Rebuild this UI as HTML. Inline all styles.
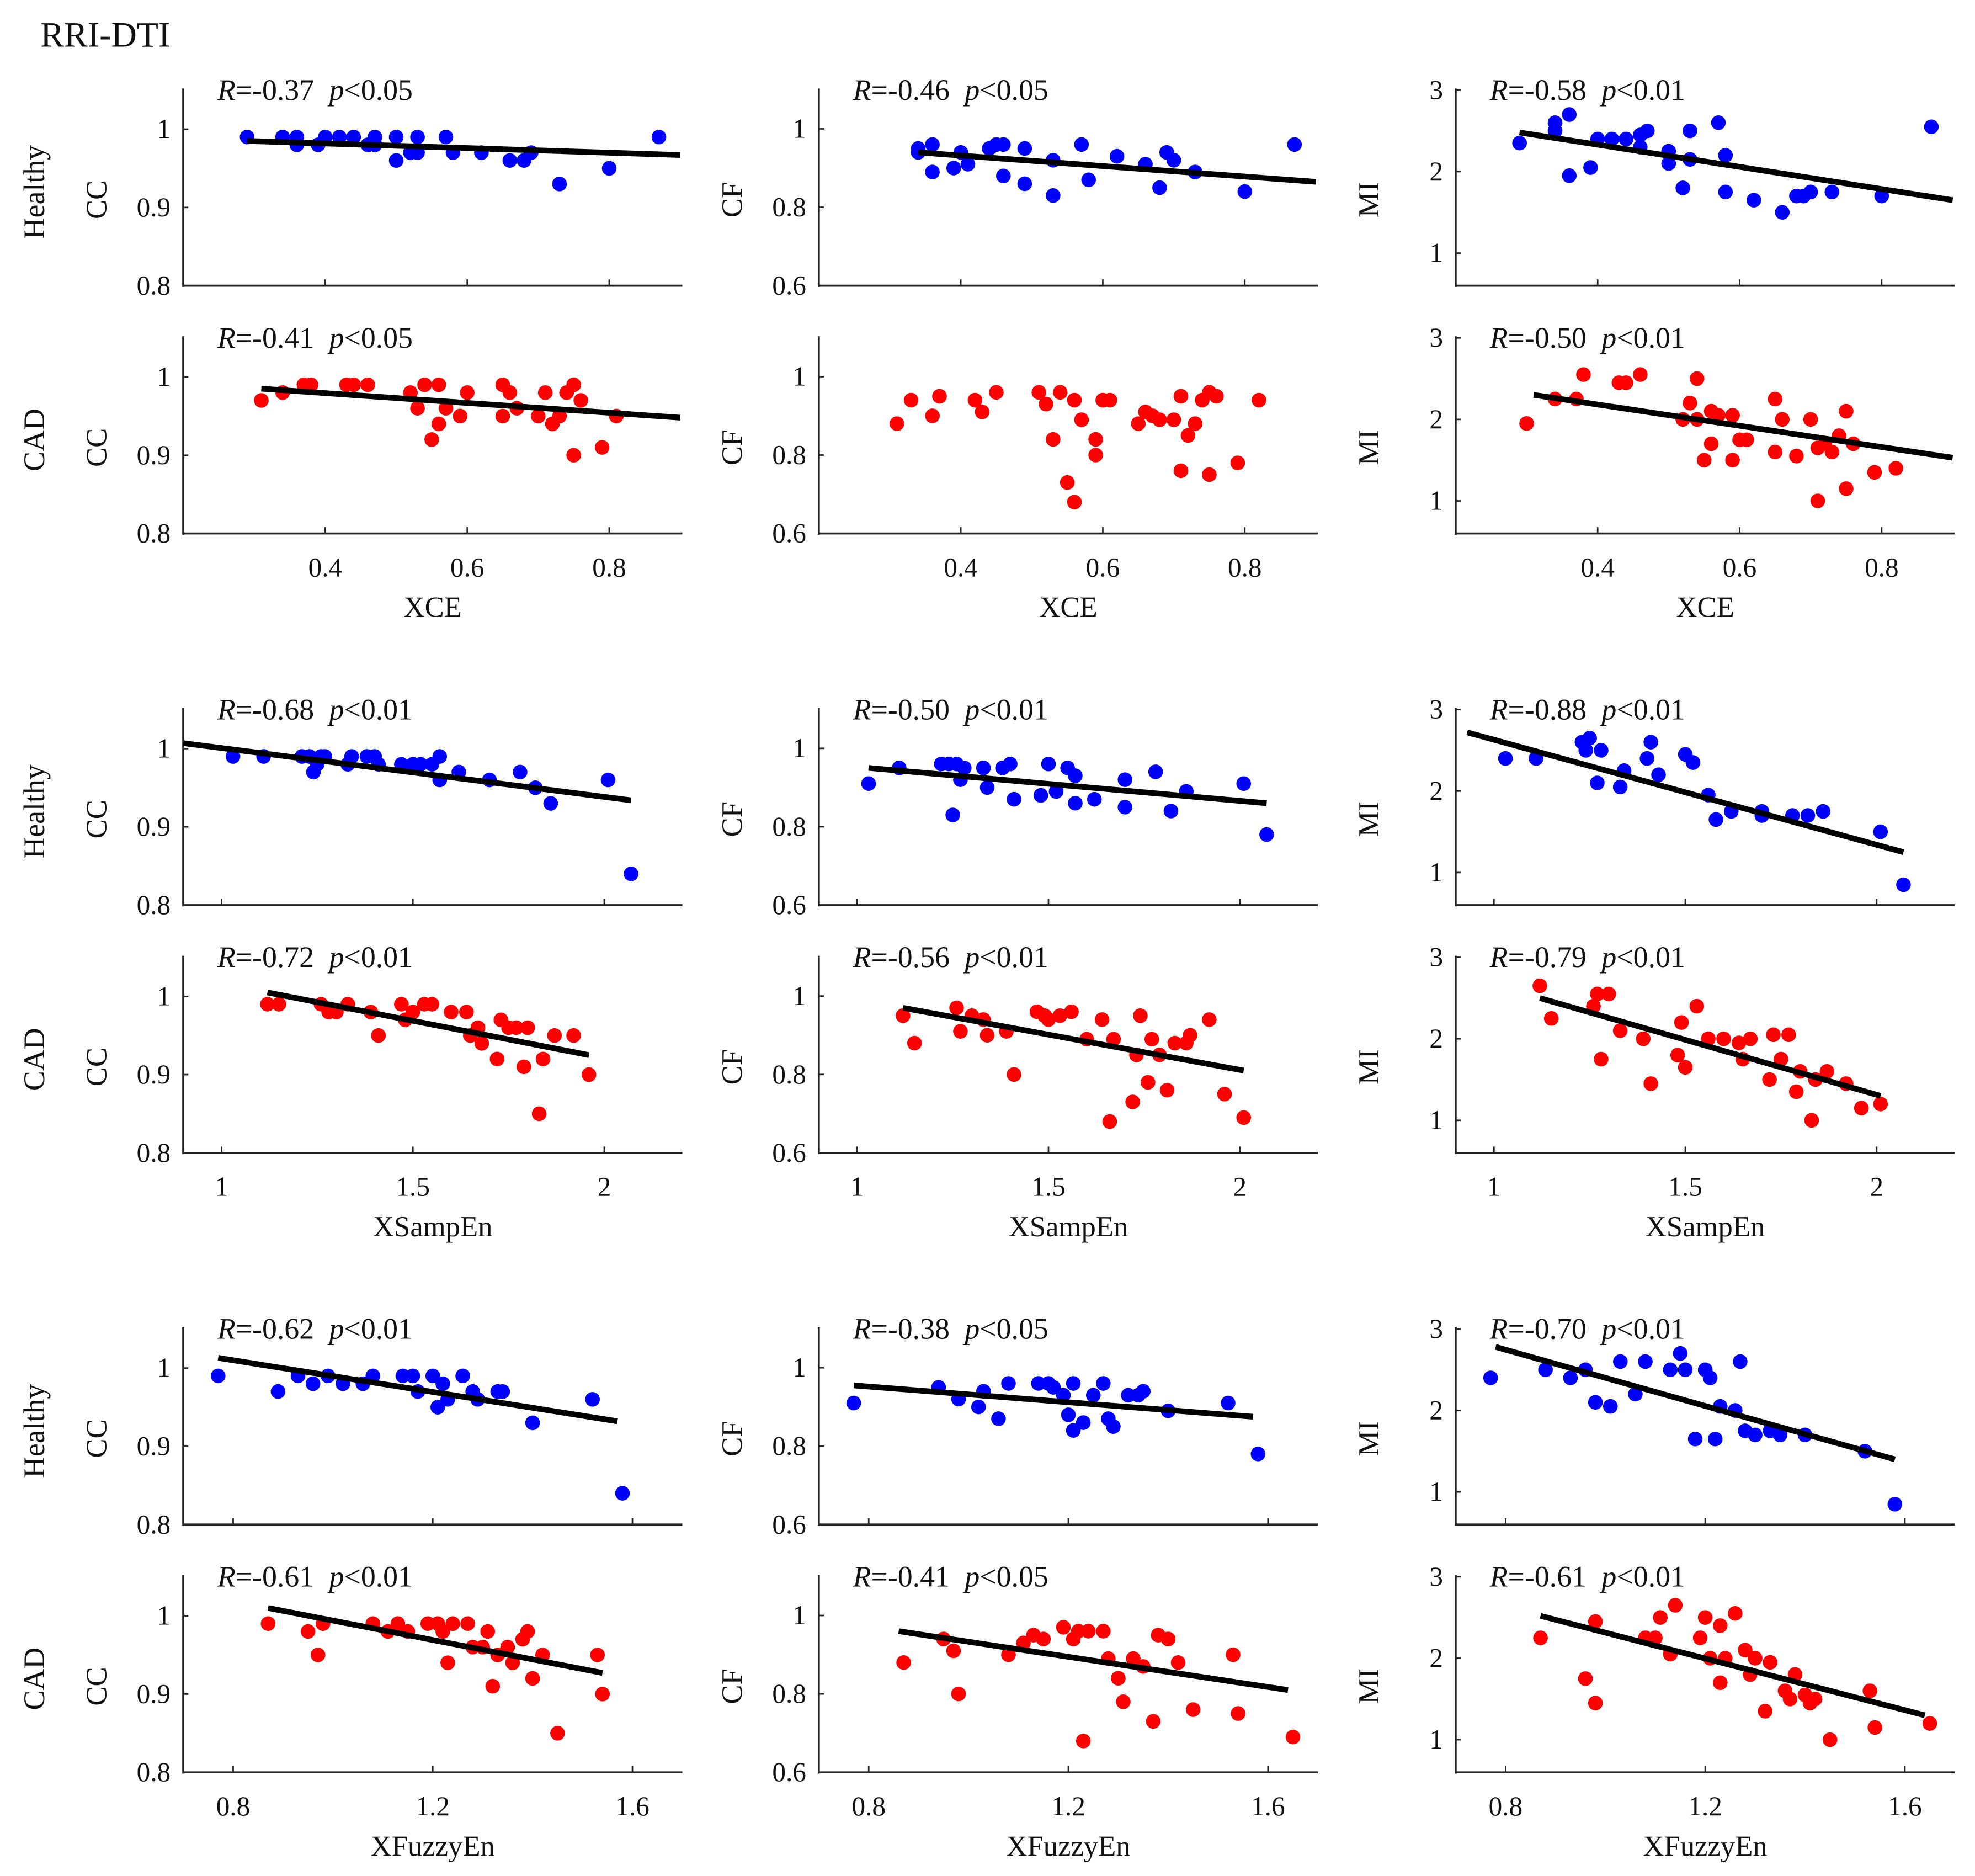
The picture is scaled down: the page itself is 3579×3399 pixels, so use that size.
<!DOCTYPE html>
<html><head><meta charset="utf-8">
<style>
html,body{margin:0;padding:0;background:#fff;}
svg{display:block;}
text{font-family:"Liberation Serif",serif;fill:#111;}
</style></head>
<body>
<svg id="fig" width="3579" height="3399" viewBox="0 0 1563 1484" preserveAspectRatio="none" xmlns="http://www.w3.org/2000/svg">
<text x="32" y="37" font-size="28">RRI-DTI</text>
</svg>
<script>
// ---- data (x, y) per panel ----
const xce_h_cc = [[0.29,0.99],[0.34,0.99],[0.36,0.98],[0.36,0.99],[0.39,0.98],[0.40,0.99],[0.42,0.99],[0.44,0.99],[0.46,0.98],[0.47,0.99],[0.47,0.98],[0.50,0.99],[0.50,0.96],[0.52,0.97],[0.53,0.99],[0.53,0.97],[0.57,0.99],[0.58,0.97],[0.62,0.97],[0.66,0.96],[0.68,0.96],[0.69,0.97],[0.73,0.93],[0.80,0.95],[0.87,0.99]];
const xce_h_cf = [[0.34,0.95],[0.34,0.94],[0.36,0.96],[0.36,0.89],[0.39,0.90],[0.40,0.94],[0.41,0.91],[0.44,0.95],[0.45,0.96],[0.46,0.96],[0.46,0.88],[0.49,0.95],[0.49,0.86],[0.53,0.92],[0.53,0.83],[0.57,0.96],[0.58,0.87],[0.62,0.93],[0.66,0.91],[0.68,0.85],[0.69,0.94],[0.70,0.92],[0.73,0.89],[0.80,0.84],[0.87,0.96]];
const xce_h_mi = [[0.29,2.35],[0.34,2.5],[0.34,2.6],[0.36,2.7],[0.36,1.95],[0.39,2.05],[0.40,2.4],[0.42,2.4],[0.44,2.4],[0.46,2.3],[0.46,2.45],[0.47,2.5],[0.50,2.1],[0.50,2.25],[0.52,1.8],[0.53,2.5],[0.53,2.15],[0.57,2.6],[0.58,2.2],[0.58,1.75],[0.62,1.65],[0.66,1.5],[0.68,1.7],[0.69,1.7],[0.70,1.75],[0.73,1.75],[0.80,1.7],[0.87,2.55]];
const xce_c_cc = [[0.31,0.97],[0.34,0.98],[0.37,0.99],[0.38,0.99],[0.43,0.99],[0.44,0.99],[0.46,0.99],[0.52,0.98],[0.53,0.96],[0.54,0.99],[0.55,0.92],[0.56,0.94],[0.56,0.99],[0.57,0.96],[0.59,0.95],[0.60,0.98],[0.65,0.95],[0.65,0.99],[0.66,0.98],[0.67,0.96],[0.70,0.95],[0.71,0.98],[0.72,0.94],[0.73,0.95],[0.74,0.98],[0.75,0.99],[0.75,0.90],[0.76,0.97],[0.79,0.91],[0.81,0.95]];
const xce_c_cf = [[0.31,0.88],[0.33,0.94],[0.36,0.90],[0.37,0.95],[0.42,0.94],[0.43,0.91],[0.45,0.96],[0.51,0.96],[0.52,0.93],[0.53,0.84],[0.54,0.96],[0.55,0.73],[0.56,0.68],[0.56,0.94],[0.57,0.89],[0.59,0.84],[0.59,0.80],[0.60,0.94],[0.61,0.94],[0.65,0.88],[0.66,0.91],[0.67,0.90],[0.68,0.89],[0.70,0.89],[0.71,0.95],[0.71,0.76],[0.72,0.85],[0.73,0.88],[0.74,0.94],[0.75,0.96],[0.75,0.75],[0.76,0.95],[0.79,0.78],[0.82,0.94]];
const xce_c_mi = [[0.30,1.95],[0.34,2.25],[0.37,2.25],[0.38,2.55],[0.43,2.45],[0.44,2.45],[0.46,2.55],[0.52,2.0],[0.53,2.2],[0.54,2.5],[0.54,2.0],[0.55,1.5],[0.56,1.7],[0.56,2.1],[0.57,2.05],[0.59,1.5],[0.59,2.05],[0.60,1.75],[0.61,1.75],[0.65,2.25],[0.65,1.6],[0.66,2.0],[0.68,1.55],[0.70,2.0],[0.71,1.0],[0.71,1.65],[0.72,1.7],[0.73,1.6],[0.74,1.8],[0.75,2.1],[0.75,1.15],[0.76,1.7],[0.79,1.35],[0.82,1.4]];
const se_h_cc = [[1.03,0.99],[1.11,0.99],[1.21,0.99],[1.23,0.99],[1.24,0.97],[1.25,0.98],[1.26,0.99],[1.27,0.99],[1.33,0.98],[1.34,0.99],[1.38,0.99],[1.40,0.99],[1.41,0.98],[1.47,0.98],[1.50,0.98],[1.52,0.98],[1.55,0.98],[1.57,0.99],[1.57,0.96],[1.62,0.97],[1.70,0.96],[1.78,0.97],[1.82,0.95],[1.86,0.93],[2.01,0.96],[2.07,0.84]];
const se_h_cf = [[1.03,0.91],[1.11,0.95],[1.22,0.96],[1.24,0.96],[1.25,0.83],[1.26,0.96],[1.27,0.92],[1.28,0.95],[1.33,0.95],[1.34,0.90],[1.38,0.95],[1.40,0.96],[1.41,0.87],[1.48,0.88],[1.50,0.96],[1.52,0.89],[1.55,0.95],[1.57,0.93],[1.57,0.86],[1.62,0.87],[1.70,0.92],[1.70,0.85],[1.78,0.94],[1.82,0.84],[1.86,0.89],[2.01,0.91],[2.07,0.78]];
const se_h_mi = [[1.03,2.4],[1.11,2.4],[1.23,2.6],[1.24,2.5],[1.25,2.65],[1.27,2.1],[1.28,2.5],[1.33,2.05],[1.34,2.25],[1.40,2.4],[1.41,2.6],[1.43,2.2],[1.50,2.45],[1.52,2.35],[1.56,1.95],[1.58,1.65],[1.62,1.75],[1.70,1.7],[1.70,1.75],[1.78,1.7],[1.82,1.7],[1.86,1.75],[2.01,1.5],[2.07,0.85]];
const se_c_cc = [[1.12,0.99],[1.15,0.99],[1.26,0.99],[1.28,0.98],[1.30,0.98],[1.33,0.99],[1.39,0.98],[1.41,0.95],[1.47,0.99],[1.48,0.97],[1.50,0.98],[1.53,0.99],[1.55,0.99],[1.60,0.98],[1.64,0.98],[1.65,0.95],[1.67,0.96],[1.68,0.94],[1.72,0.92],[1.73,0.97],[1.75,0.96],[1.77,0.96],[1.79,0.91],[1.80,0.96],[1.83,0.85],[1.84,0.92],[1.87,0.95],[1.92,0.95],[1.96,0.90]];
const se_c_cf = [[1.12,0.95],[1.15,0.88],[1.26,0.97],[1.27,0.91],[1.30,0.95],[1.33,0.94],[1.34,0.90],[1.39,0.91],[1.41,0.80],[1.47,0.96],[1.49,0.95],[1.50,0.94],[1.53,0.95],[1.56,0.96],[1.60,0.89],[1.64,0.94],[1.66,0.68],[1.67,0.89],[1.72,0.73],[1.73,0.85],[1.74,0.95],[1.76,0.78],[1.77,0.89],[1.79,0.85],[1.81,0.76],[1.83,0.88],[1.86,0.88],[1.87,0.90],[1.92,0.94],[1.96,0.75],[2.01,0.69]];
const se_c_mi = [[1.12,2.65],[1.15,2.25],[1.26,2.4],[1.27,2.55],[1.28,1.75],[1.30,2.55],[1.33,2.1],[1.39,2.0],[1.41,1.45],[1.48,1.8],[1.49,2.2],[1.50,1.65],[1.53,2.4],[1.56,2.0],[1.60,2.0],[1.64,1.95],[1.65,1.75],[1.67,2.0],[1.72,1.5],[1.73,2.05],[1.75,1.75],[1.77,2.05],[1.79,1.35],[1.80,1.6],[1.83,1.0],[1.84,1.5],[1.87,1.6],[1.92,1.45],[1.96,1.15],[2.01,1.2]];
const fe_h_cc = [[0.77,0.99],[0.89,0.97],[0.93,0.99],[0.96,0.98],[0.99,0.99],[1.02,0.98],[1.06,0.98],[1.08,0.99],[1.14,0.99],[1.16,0.99],[1.17,0.97],[1.20,0.99],[1.21,0.95],[1.22,0.98],[1.23,0.96],[1.26,0.99],[1.28,0.97],[1.29,0.96],[1.33,0.97],[1.34,0.97],[1.40,0.93],[1.52,0.96],[1.58,0.84]];
const fe_h_cf = [[0.77,0.91],[0.94,0.95],[0.98,0.92],[1.02,0.90],[1.03,0.94],[1.06,0.87],[1.08,0.96],[1.14,0.96],[1.16,0.96],[1.17,0.95],[1.19,0.93],[1.20,0.88],[1.21,0.84],[1.21,0.96],[1.23,0.86],[1.25,0.93],[1.27,0.96],[1.28,0.87],[1.29,0.85],[1.32,0.93],[1.34,0.93],[1.35,0.94],[1.40,0.89],[1.52,0.91],[1.58,0.78]];
const fe_h_mi = [[0.77,2.4],[0.88,2.5],[0.93,2.4],[0.96,2.5],[0.98,2.1],[1.01,2.05],[1.03,2.6],[1.06,2.2],[1.08,2.6],[1.13,2.5],[1.15,2.7],[1.16,2.5],[1.18,1.65],[1.20,2.5],[1.21,2.4],[1.22,1.65],[1.23,2.05],[1.26,2.0],[1.27,2.6],[1.28,1.75],[1.30,1.7],[1.33,1.75],[1.35,1.7],[1.40,1.7],[1.52,1.5],[1.58,0.85]];
const fe_c_cc = [[0.87,0.99],[0.95,0.98],[0.97,0.95],[0.98,0.99],[1.08,0.99],[1.11,0.98],[1.13,0.99],[1.15,0.98],[1.19,0.99],[1.21,0.99],[1.22,0.98],[1.23,0.94],[1.24,0.99],[1.27,0.99],[1.28,0.96],[1.30,0.96],[1.31,0.98],[1.32,0.91],[1.33,0.95],[1.35,0.96],[1.36,0.94],[1.38,0.97],[1.39,0.98],[1.40,0.92],[1.42,0.95],[1.45,0.85],[1.53,0.95],[1.54,0.90]];
const fe_c_cf = [[0.87,0.88],[0.95,0.94],[0.97,0.91],[0.98,0.80],[1.08,0.90],[1.11,0.93],[1.13,0.95],[1.15,0.94],[1.19,0.97],[1.21,0.94],[1.22,0.96],[1.23,0.68],[1.24,0.96],[1.27,0.96],[1.28,0.89],[1.30,0.84],[1.31,0.78],[1.33,0.89],[1.35,0.87],[1.37,0.73],[1.38,0.95],[1.40,0.94],[1.42,0.88],[1.45,0.76],[1.53,0.90],[1.54,0.75],[1.65,0.69]];
const fe_c_mi = [[0.87,2.25],[0.96,1.75],[0.98,1.45],[0.98,2.45],[1.08,2.25],[1.10,2.25],[1.11,2.5],[1.13,2.05],[1.14,2.65],[1.19,2.25],[1.20,2.5],[1.21,2.0],[1.23,1.7],[1.23,2.4],[1.24,2.0],[1.26,2.55],[1.28,2.1],[1.29,1.8],[1.30,2.0],[1.32,1.35],[1.33,1.95],[1.36,1.6],[1.37,1.5],[1.38,1.8],[1.40,1.55],[1.41,1.45],[1.42,1.5],[1.45,1.0],[1.53,1.6],[1.54,1.15],[1.65,1.2]];

// regression line endpoints [x0,y0,x1,y1] (null = no line)
const fitLines = [
 [0.29,0.985,0.9,0.967],[0.34,0.94,0.9,0.865],[0.29,2.48,0.9,1.65],
 [0.31,0.985,0.9,0.948],null,[0.31,2.3,0.9,1.53],
 [0.9,1.007,2.07,0.934],[1.03,0.95,2.07,0.86],[0.93,2.72,2.07,1.25],
 [1.12,1.005,1.96,0.925],[1.12,0.97,2.01,0.81],[1.12,2.5,2.01,1.3],
 [0.77,1.013,1.57,0.932],[0.77,0.955,1.57,0.875],[0.78,2.78,1.58,1.4],
 [0.87,1.01,1.54,0.927],[0.86,0.96,1.64,0.81],[0.87,2.52,1.64,1.3]
];
const rValues = ["-0.37","-0.46","-0.58","-0.41",null,"-0.50","-0.68","-0.50","-0.88","-0.72","-0.56","-0.79","-0.62","-0.38","-0.70","-0.61","-0.41","-0.61"];
const pValues = ["0.05","0.05","0.01","0.05",null,"0.01","0.01","0.01","0.01","0.01","0.01","0.01","0.01","0.05","0.01","0.01","0.05","0.01"];
const panelData = [xce_h_cc,xce_h_cf,xce_h_mi,xce_c_cc,xce_c_cf,xce_c_mi,se_h_cc,se_h_cf,se_h_mi,se_c_cc,se_c_cf,se_c_mi,fe_h_cc,fe_h_cf,fe_h_mi,fe_c_cc,fe_c_cf,fe_c_mi];

const xNames = ["XCE","XSampEn","XFuzzyEn"];
const xDomains = [[0.2,0.903],[0.9,2.204],[0.7,1.7]];
const xTicks = [[0.4,0.6,0.8],[1,1.5,2],[0.8,1.2,1.6]];
const xTickLabels = [["0.4","0.6","0.8"],["1","1.5","2"],["0.8","1.2","1.6"]];
const yNames = ["CC","CF","MI"];
const yDomains = [[0.8,1.052],[0.6,1.103],[0.6,3.02]];
const yTicks = [[0.8,0.9,1],[0.6,0.8,1],[1,2,3]];
const yTickLabels = [["0.8","0.9","1"],["0.6","0.8","1"],["1","2","3"]];
const groups = ["Healthy","CAD"];

const NS="http://www.w3.org/2000/svg";
const svg=document.getElementById('fig');
function mk(tag,attrs,parent){const e=document.createElementNS(NS,tag);for(const k in attrs)e.setAttribute(k,attrs[k]);(parent||svg).appendChild(e);return e;}

const colLeft=[145,648,1152], W=395, H=156;
const rowTop=[70,266,560,756,1050,1246];

for(let b=0;b<3;b++){
 for(let g=0;g<2;g++){
  const top=rowTop[b*2+g], bottom=top+H;
  for(let c=0;c<3;c++){
   const idx=(b*2+g)*3+c;
   const L=colLeft[c];
   const xd=xDomains[b], yd=yDomains[c];
   const sx=v=>L+(v-xd[0])/(xd[1]-xd[0])*W;
   const sy=v=>bottom-(v-yd[0])/(yd[1]-yd[0])*H;
   const pg=mk('g',{});
   
   
   const ya=mk('line',{x1:L,y1:top,x2:L,y2:bottom+1,stroke:'#222','stroke-width':1.6},pg);
   
   
   const xa=mk('line',{x1:L,y1:bottom,x2:L+W,y2:bottom,stroke:'#222','stroke-width':1.6},pg);
   
   
   yTicks[c].forEach((t,i)=>{
     mk('line',{x1:L,y1:sy(t),x2:L+4,y2:sy(t),stroke:'#222','stroke-width':1.2},pg);
     const tl=mk('text',{x:L-10,y:sy(t)+7,'font-size':21.5,'text-anchor':'end'},pg);
     tl.textContent=yTickLabels[c][i];
     
     
   });
   xTicks[b].forEach((t,i)=>{
     mk('line',{x1:sx(t),y1:bottom,x2:sx(t),y2:bottom-5,stroke:'#222','stroke-width':1.2},pg);
     if(g===1){
      const tl=mk('text',{x:sx(t),y:bottom+34,'font-size':21.5,'text-anchor':'middle'},pg);
      tl.textContent=xTickLabels[b][i];
      
      
     }
   });
   if(g===1){
     const xt=mk('text',{x:L+W/2,y:bottom+66,'font-size':23,'text-anchor':'middle'},pg);
     xt.textContent=xNames[b];
     
     
   }
   const yt=mk('text',{x:0,y:0,'font-size':23,'text-anchor':'middle',transform:`translate(${L-61},${top+H/2+10}) rotate(-90)`},pg);
   yt.textContent=yNames[c];
   
   
   if(c===0){
     const gl=mk('text',{x:0,y:0,'font-size':23.5,'text-anchor':'middle',transform:`translate(35,${top+H/2+4}) rotate(-90)`},pg);
     gl.textContent=groups[g];
     
     
   }
   const col=g===0?'#0000ff':'#ff0000';
   panelData[idx].forEach(p=>{
     const d=mk('circle',{cx:sx(p[0]),cy:sy(p[1]),r:5.8,fill:col},pg);
     
     
   });
   const fl=fitLines[idx];
   if(fl){
     const ln=mk('line',{x1:sx(fl[0]),y1:sy(fl[1]),x2:sx(fl[2]),y2:sy(fl[3]),stroke:'#000','stroke-width':4.5},pg);
     
     
   }
   if(rValues[idx]){
     const st=mk('text',{x:L+27,y:top+9,'font-size':23.5},pg);
     
     
     const a=mk('tspan',{'font-style':'italic'},st);a.textContent='R';
     const b1=mk('tspan',{},st);b1.textContent='='+rValues[idx];
     const c1=mk('tspan',{'font-style':'italic',dx:12},st);c1.textContent='p';
     const d1=mk('tspan',{},st);d1.textContent='<'+pValues[idx];
   }
  }
 }
}
</script>
</body></html>
